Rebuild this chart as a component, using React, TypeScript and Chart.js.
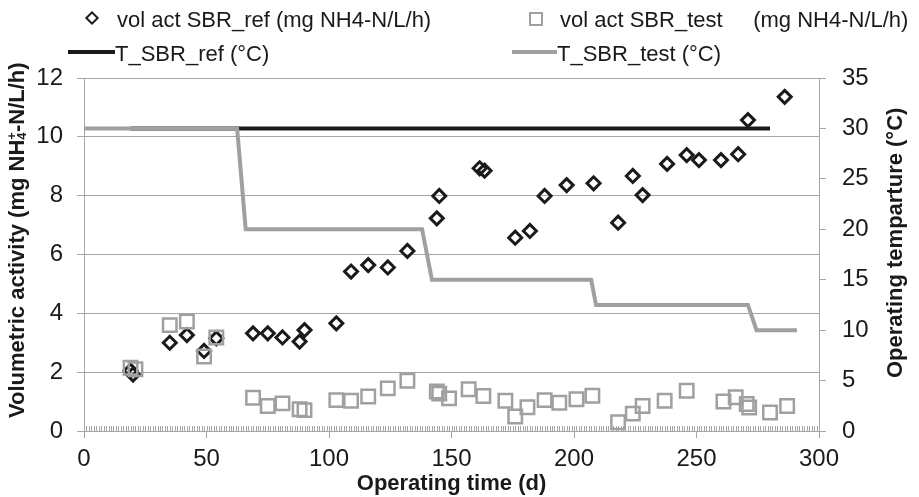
import React, { useEffect, useRef } from "react";
import { Chart, registerables } from "chart.js";

Chart.register(...registerables);

// ---- data ----
const refDays = [19, 20, 35, 42, 49, 54, 69, 75, 81, 88, 90, 103, 109, 116, 124, 132, 144, 145, 161.5, 163.5, 176, 182, 188, 197, 208, 218, 224, 228, 238, 246, 251, 260, 267, 271, 286];
const refActivity = [2.05, 1.92, 3.0, 3.26, 2.72, 3.15, 3.32, 3.32, 3.18, 3.04, 3.43, 3.66, 5.42, 5.64, 5.56, 6.12, 7.23, 7.99, 8.93, 8.85, 6.57, 6.8, 7.99, 8.36, 8.42, 7.08, 8.67, 8.02, 9.08, 9.38, 9.21, 9.21, 9.41, 10.57, 11.36];

const testDays = [19, 21, 35, 42, 49, 54, 69, 75, 81, 88, 90, 103, 109, 116, 124, 132, 144, 145, 149, 157, 163, 172, 176, 181, 188, 194, 201, 207.5, 218, 224, 228, 237, 246, 261, 266, 270.5, 271.5, 280, 287];
const testActivity = [2.15, 2.1, 3.6, 3.72, 2.53, 3.18, 1.13, 0.85, 0.94, 0.74, 0.71, 1.05, 1.03, 1.17, 1.45, 1.71, 1.34, 1.27, 1.11, 1.42, 1.19, 1.03, 0.49, 0.81, 1.05, 0.96, 1.08, 1.2, 0.3, 0.59, 0.85, 1.03, 1.37, 1.0, 1.15, 0.92, 0.8, 0.63, 0.85];

const refTempDays = [19, 280];
const refTemp = [30, 30];

const testTempDays = [0, 62.5, 66, 138, 142, 207, 209, 271, 274.5, 291];
const testTemp = [30, 30, 20, 20, 15, 15, 12.5, 12.5, 10, 10];

const xTicks = [0, 50, 100, 150, 200, 250, 300];
const leftTicks = [0, 2, 4, 6, 8, 10, 12];
const rightTicks = [0, 5, 10, 15, 20, 25, 30, 35];

const labels = {
  ref: "vol act SBR_ref (mg NH4-N/L/h)",
  test: "vol act SBR_test     (mg NH4-N/L/h)",
  tRef: "T_SBR_ref (°C)",
  tTest: "T_SBR_test (°C)",
};
const xTitle = "Operating time (d)";
const rightTitle = "Operating temparture (°C)";

// ---- styles ----
const FONT = "'Liberation Sans', Arial, Helvetica, sans-serif";
const GRID = "#a6a6a6";
const TEXT = "#1a1a1a";
const BLACK = "#1a1a1a";
const GREY = "#a0a0a0";

const pts = (xs: number[], ys: number[]) => xs.map((x, i) => ({ x, y: ys[i] }));

const minorTicks = {
  id: "minorTicks",
  beforeDatasetsDraw(chart: any) {
    const xs = chart.scales.x;
    const { ctx, chartArea } = chart;
    ctx.save();
    ctx.strokeStyle = GRID;
    ctx.lineWidth = 1;
    ctx.beginPath();
    for (let d = xTicks[0]; d <= xTicks[xTicks.length - 1]; d += 1) {
      const px = Math.round(xs.getPixelForValue(d)) + 0.5;
      ctx.moveTo(px, chartArea.bottom - 5);
      ctx.lineTo(px, chartArea.bottom);
    }
    ctx.stroke();
    ctx.restore();
  },
};

export default function App() {
  const canvasRef = useRef<HTMLCanvasElement | null>(null);

  useEffect(() => {
    const canvas = canvasRef.current;
    if (!canvas) return;
    const chart = new Chart(canvas, {
      type: "scatter",
      data: {
        datasets: [
          {
            label: labels.test,
            data: pts(testDays, testActivity),
            yAxisID: "y",
            pointStyle: "rect",
            pointRadius: 9.5,
            pointBorderWidth: 2.5,
            borderColor: GREY,
            backgroundColor: "rgba(0,0,0,0)",
            order: 0,
            clip: false,
          },
          {
            label: labels.ref,
            data: pts(refDays, refActivity),
            yAxisID: "y",
            pointStyle: "rectRot",
            pointRadius: 6.5,
            pointBorderWidth: 3,
            borderColor: BLACK,
            backgroundColor: "rgba(0,0,0,0)",
            order: 1,
            clip: false,
          },
          {
            label: labels.tTest,
            data: pts(testTempDays, testTemp),
            yAxisID: "y2",
            showLine: true,
            pointRadius: 0,
            borderColor: GREY,
            borderWidth: 4,
            tension: 0,
            order: 2,
          },
          {
            label: labels.tRef,
            data: pts(refTempDays, refTemp),
            yAxisID: "y2",
            showLine: true,
            pointRadius: 0,
            borderColor: BLACK,
            borderWidth: 4,
            tension: 0,
            order: 3,
          },
        ],
      },
      options: {
        responsive: false,
        animation: false,
        devicePixelRatio: 1,
        layout: { padding: { top: 78, left: 0, right: 0, bottom: 0 } },
        plugins: { legend: { display: false }, tooltip: { enabled: false } },
        scales: {
          x: {
            type: "linear",
            position: "bottom",
            min: xTicks[0],
            max: xTicks[xTicks.length - 1],
            afterBuildTicks: (s: any) => { s.ticks = xTicks.map((v) => ({ value: v })); },
            afterFit: (s: any) => { s.height = 66; },
            grid: { drawOnChartArea: false, color: GRID, tickLength: 7, lineWidth: 1 },
            border: { color: GRID, width: 1 },
            ticks: { color: TEXT, font: { family: FONT, size: 24 }, padding: 7, maxRotation: 0, autoSkip: false },
            title: { display: true, text: xTitle, color: TEXT, font: { family: FONT, size: 22, weight: "bold" }, padding: { top: 3, bottom: 0 } },
          },
          y: {
            type: "linear",
            position: "left",
            min: leftTicks[0],
            max: leftTicks[leftTicks.length - 1],
            afterBuildTicks: (s: any) => { s.ticks = leftTicks.map((v) => ({ value: v })); },
            afterFit: (s: any) => { s.width = 84; },
            grid: { color: GRID, tickLength: 7, lineWidth: 1 },
            border: { color: GRID, width: 1 },
            ticks: { color: TEXT, font: { family: FONT, size: 24 }, padding: 14 },
          },
          y2: {
            type: "linear",
            position: "right",
            min: rightTicks[0],
            max: rightTicks[rightTicks.length - 1],
            afterBuildTicks: (s: any) => { s.ticks = rightTicks.map((v) => ({ value: v })); },
            afterFit: (s: any) => { s.width = 100; },
            grid: { drawOnChartArea: false, color: GRID, tickLength: 7, lineWidth: 1 },
            border: { color: GRID, width: 1 },
            ticks: { color: TEXT, font: { family: FONT, size: 24 }, padding: 16 },
          },
        },
      },
      plugins: [minorTicks],
    } as any);
    return () => chart.destroy();
  }, []);

  const legendText: React.CSSProperties = {
    position: "absolute",
    fontFamily: FONT,
    fontSize: 22,
    lineHeight: "24px",
    color: TEXT,
    whiteSpace: "pre",
  };
  const vTitle: React.CSSProperties = {
    position: "absolute",
    fontFamily: FONT,
    fontSize: 22,
    fontWeight: "bold",
    lineHeight: "26px",
    color: TEXT,
    whiteSpace: "nowrap",
    transform: "rotate(-90deg)",
    transformOrigin: "0 0",
  };

  return (
    <div style={{ position: "absolute", left: 0, top: 0, width: 919, height: 497, background: "#fff", overflow: "hidden" }}>
      <canvas ref={canvasRef} width={919} height={497} style={{ display: "block", width: 919, height: 497 }} />
      {/* legend */}
      <div style={{ position: "absolute", left: 92 - 5, top: 18 - 5, width: 10, height: 10, boxSizing: "border-box", border: `2.8px solid ${BLACK}`, transform: "rotate(45deg)" }} />
      <div style={{ ...legendText, left: 117, top: 7.5 }}>{labels.ref}</div>
      <div style={{ position: "absolute", left: 536 - 7, top: 19 - 7, width: 14, height: 14, boxSizing: "border-box", border: `2.5px solid ${GREY}` }} />
      <div style={{ ...legendText, left: 560, top: 7.5 }}>{labels.test}</div>
      <div style={{ position: "absolute", left: 68, top: 50, width: 47, height: 4, background: BLACK }} />
      <div style={{ ...legendText, left: 115, top: 42 }}>{labels.tRef}</div>
      <div style={{ position: "absolute", left: 512, top: 50, width: 45, height: 4, background: GREY }} />
      <div style={{ ...legendText, left: 557, top: 42 }}>{labels.tTest}</div>
      {/* axis titles */}
      <div style={{ ...vTitle, left: 4.4, top: 418 }}>
        Volumetric activity (mg NH
        <span style={{ display: "inline-block", verticalAlign: "middle", lineHeight: "10px", fontSize: 13, textAlign: "left", position: "relative", top: -1 }}>
          <span style={{ display: "block" }}>+</span>
          <span style={{ display: "block" }}>4</span>
        </span>
        -N/L/h)
      </div>
      <div style={{ ...vTitle, left: 882, top: 378 }}>{rightTitle}</div>
    </div>
  );
}
